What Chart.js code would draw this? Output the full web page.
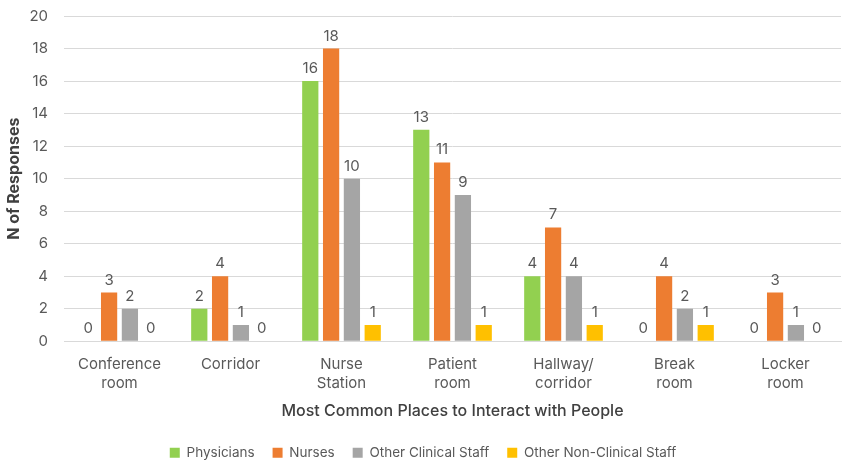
<!DOCTYPE html>
<html>
<head>
<meta charset="utf-8">
<script src="https://cdn.jsdelivr.net/npm/chart.js@4/dist/chart.umd.min.js"></script>
<style>
  html, body { margin: 0; padding: 0; background: #fff; }
  #wrap { width: 842px; height: 460px; position: relative; }
</style>
</head>
<body>
<div id="wrap"><canvas id="chartLugares"></canvas></div>
<script>
// Lugares donde más se interactúa, por grupo de personal
const categorias = [
    ['Conference', 'room'],
    'Corridor',
    ['Nurse', 'Station'],
    ['Patient', 'room'],
    ['Hallway/', 'corridor'],
    ['Break', 'room'],
    ['Locker', 'room']
];
const physicians = [0, 2, 16, 13, 4, 0, 0];
const nurses = [3, 4, 18, 11, 7, 4, 3];
const otherClinical = [2, 1, 10, 9, 4, 2, 1];
const otherNonClinical = [0, 0, 1, 1, 1, 1, 0];
const yTicks = [0, 2, 4, 6, 8, 10, 12, 14, 16, 18, 20];

const fuente = 'Inter, "Noto Sans", sans-serif';
const textoGris = '#595959';

// Escribe el valor encima de cada barra (también los ceros)
const etiquetasValor = {
    id: 'etiquetasValor',
    afterDatasetsDraw(chart) {
        const ctx = chart.ctx;
        ctx.save();
        ctx.font = '15px ' + fuente;
        ctx.fillStyle = textoGris;
        ctx.textAlign = 'center';
        ctx.textBaseline = 'bottom';
        chart.data.datasets.forEach((ds, i) => {
            const meta = chart.getDatasetMeta(i);
            meta.data.forEach((bar, j) => {
                ctx.fillText(String(ds.data[j]), bar.x, bar.y - 5);
            });
        });
        ctx.restore();
    }
};

new Chart(document.getElementById('chartLugares'), {
    type: 'bar',
    data: {
        labels: categorias,
        datasets: [
            { label: 'Physicians', data: physicians, backgroundColor: '#92D050' },
            { label: 'Nurses', data: nurses, backgroundColor: '#ED7D31' },
            { label: 'Other Clinical Staff', data: otherClinical, backgroundColor: '#A5A5A5' },
            { label: 'Other Non-Clinical Staff', data: otherNonClinical, backgroundColor: '#FFC000' }
        ]
    },
    options: {
        responsive: true,
        maintainAspectRatio: false,
        animation: false,
        categoryPercentage: 0.75,
        barPercentage: 0.78,
        layout: { padding: { top: 2, right: 1, left: 5, bottom: 0 } },
        plugins: {
            tooltip: { enabled: false },
            legend: {
                position: 'bottom',
                maxHeight: 32,
                labels: {
                    boxWidth: 10,
                    boxHeight: 10,
                    padding: 18,
                    color: textoGris,
                    font: { family: fuente, size: 13.5 }
                }
            }
        },
        scales: {
            x: {
                grid: { display: false },
                border: { color: '#d9d9d9' },
                ticks: {
                    color: textoGris,
                    font: { family: fuente, size: 15, lineHeight: 1.25 },
                    maxRotation: 0,
                    padding: 6
                },
                title: {
                    display: true,
                    text: 'Most Common Places to Interact with People',
                    color: '#404040',
                    font: { family: fuente, size: 16, weight: '500' },
                    padding: { top: 3, bottom: 7 }
                }
            },
            y: {
                min: 0,
                max: 20,
                afterBuildTicks: (scale) => { scale.ticks = yTicks.map(v => ({ value: v })); },
                afterFit: (scale) => {
                    scale.width = 59;
                    scale.paddingTop = 16;
                },
                grid: { color: '#d9d9d9', drawTicks: false },
                border: { display: false },
                ticks: {
                    color: textoGris,
                    font: { family: fuente, size: 15 },
                    padding: 16
                },
                title: {
                    display: true,
                    text: 'N of Responses',
                    color: '#404040',
                    font: { family: fuente, size: 16, weight: 'bold' },
                    padding: { top: 0, bottom: 2 }
                }
            }
        }
    },
    plugins: [etiquetasValor]
});
</script>
</body>
</html>
